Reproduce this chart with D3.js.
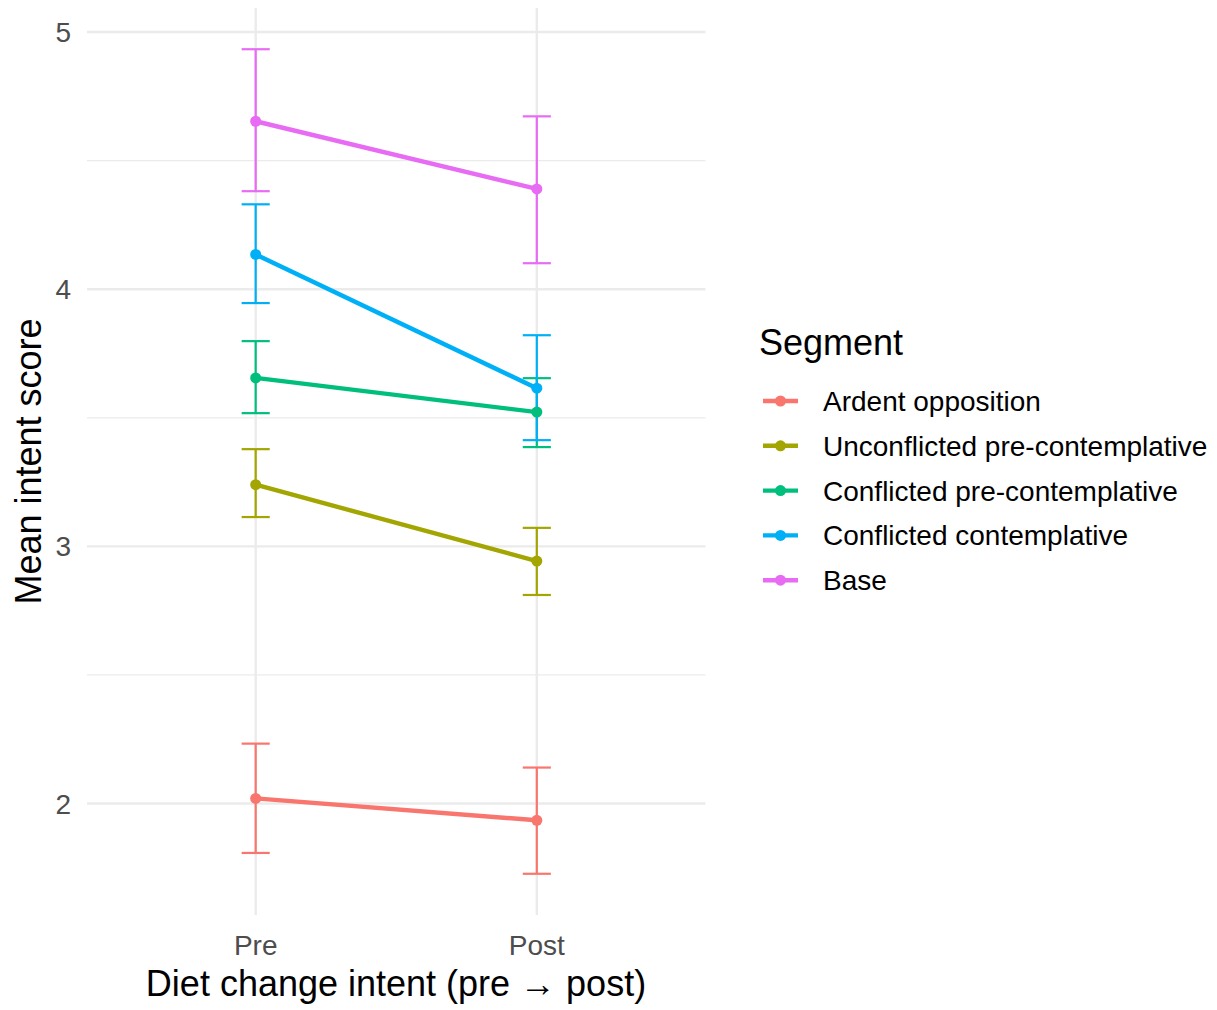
<!DOCTYPE html>
<html>
<head>
<meta charset="utf-8">
<script src="https://cdn.jsdelivr.net/npm/d3@7"></script>
<style>
  body { margin: 0; background: #fff; }
  svg { font-family: "Liberation Sans", Arial, sans-serif; }
</style>
</head>
<body>
<script>
const width = 1217, height = 1010;

const times = ["Pre", "Post"];
const segments = ["Ardent opposition", "Unconflicted pre-contemplative", "Conflicted pre-contemplative", "Conflicted contemplative", "Base"];
const colors = ["#F8766D", "#A3A500", "#00BF7D", "#00B0F6", "#E76BF3"];
// mean, lower, upper for Pre and Post
const meanPre  = [2.02, 3.24, 3.655, 4.135, 4.653];
const meanPost = [1.935, 2.943, 3.522, 3.615, 4.39];
const lowPre   = [1.808, 3.114, 3.518, 3.946, 4.381];
const highPre  = [2.233, 3.378, 3.798, 4.330, 4.933];
const lowPost  = [1.727, 2.811, 3.386, 3.413, 4.101];
const highPost = [2.140, 3.072, 3.654, 3.821, 4.672];
const yTicks = [2, 3, 4, 5];
const yMinor = [2.5, 3.5, 4.5];

const rows = segments.map((s, i) => ({
  name: s, color: colors[i],
  pts: [
    {t: "Pre", m: meanPre[i], lo: lowPre[i], hi: highPre[i]},
    {t: "Post", m: meanPost[i], lo: lowPost[i], hi: highPost[i]}
  ]
}));

const allVals = lowPre.concat(lowPost, highPre, highPost);
const ymin = d3.min(allVals), ymax = d3.max(allVals), pad = (ymax - ymin) * 0.05;
const y = d3.scaleLinear().domain([ymin - pad, ymax + pad]).range([915, 8]);
const xi = d3.scaleLinear().domain([0.4, 2.6]).range([87, 705.5]);
const x = t => xi(times.indexOf(t) + 1);

const svg = d3.select("body").append("svg")
    .attr("width", width)
    .attr("height", height);

// grid
const grid = svg.append("g");
grid.selectAll("line.minor").data(yMinor).enter().append("line")
    .attr("x1", 87).attr("x2", 705.5)
    .attr("y1", d => y(d)).attr("y2", d => y(d))
    .attr("stroke", "#ebebeb").attr("stroke-width", 1.2);
grid.selectAll("line.major").data(yTicks).enter().append("line")
    .attr("x1", 87).attr("x2", 705.5)
    .attr("y1", d => y(d)).attr("y2", d => y(d))
    .attr("stroke", "#ebebeb").attr("stroke-width", 2.4);
grid.selectAll("line.vx").data(times).enter().append("line")
    .attr("x1", d => x(d)).attr("x2", d => x(d))
    .attr("y1", 8).attr("y2", 915)
    .attr("stroke", "#ebebeb").attr("stroke-width", 2.4);

// error bars
const capW = (xi(1.1) - xi(1));
rows.forEach(r => {
  const g = svg.append("g").attr("stroke", r.color).attr("stroke-width", 2.2);
  r.pts.forEach(p => {
    g.append("line").attr("x1", x(p.t)).attr("x2", x(p.t)).attr("y1", y(p.lo)).attr("y2", y(p.hi));
    g.append("line").attr("x1", x(p.t) - capW / 2).attr("x2", x(p.t) + capW / 2).attr("y1", y(p.lo)).attr("y2", y(p.lo));
    g.append("line").attr("x1", x(p.t) - capW / 2).attr("x2", x(p.t) + capW / 2).attr("y1", y(p.hi)).attr("y2", y(p.hi));
  });
});

// lines + points
const line = d3.line().x(d => x(d.t)).y(d => y(d.m));
rows.forEach(r => {
  svg.append("path")
      .attr("d", line(r.pts))
      .attr("fill", "none")
      .attr("stroke", r.color)
      .attr("stroke-width", 4.4);
  svg.selectAll(null).data(r.pts).enter().append("circle")
      .attr("cx", d => x(d.t)).attr("cy", d => y(d.m))
      .attr("r", 5.5).attr("fill", r.color);
});

// axes text
svg.append("g").selectAll("text").data(yTicks).enter().append("text")
    .attr("x", 71).attr("y", d => y(d))
    .attr("dy", "0.36em")
    .attr("text-anchor", "end")
    .attr("font-size", 28)
    .attr("fill", "#4d4d4d")
    .text(d => d);

svg.append("g").selectAll("text").data(times).enter().append("text")
    .attr("x", d => x(d)).attr("y", 955)
    .attr("text-anchor", "middle")
    .attr("font-size", 28)
    .attr("fill", "#4d4d4d")
    .text(d => d);

svg.append("text")
    .attr("x", 396).attr("y", 996)
    .attr("text-anchor", "middle")
    .attr("font-size", 36)
    .attr("fill", "#000")
    .text("Diet change intent (pre \u2192 post)");

svg.append("text")
    .attr("transform", `translate(41,${(8 + 915) / 2}) rotate(-90)`)
    .attr("text-anchor", "middle")
    .attr("font-size", 36)
    .attr("fill", "#000")
    .text("Mean intent score");

// legend
const legend = svg.append("g");
legend.append("text")
    .attr("x", 759).attr("y", 355)
    .attr("font-size", 36)
    .text("Segment");
const item = legend.selectAll("g.item").data(rows).enter().append("g")
    .attr("transform", (d, i) => `translate(0,${401 + i * 44.8})`);
item.append("line")
    .attr("x1", 763).attr("x2", 798)
    .attr("stroke", d => d.color).attr("stroke-width", 4.4);
item.append("circle")
    .attr("cx", 780.5).attr("r", 5.5)
    .attr("fill", d => d.color);
item.append("text")
    .attr("x", 823).attr("dy", "0.36em")
    .attr("font-size", 28)
    .text(d => d.name);
</script>
</body>
</html>
